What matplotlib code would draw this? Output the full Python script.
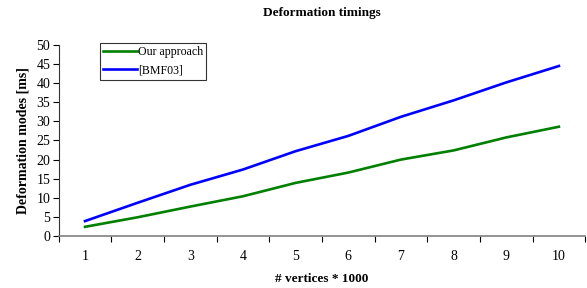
import matplotlib
matplotlib.use("Agg")
import matplotlib.pyplot as plt
import numpy as np

plt.rcParams['font.family'] = ['Liberation Serif', 'DejaVu Serif']

categories = [1, 2, 3, 4, 5, 6, 7, 8, 9, 10]
our_approach = [2.4, 4.9, 7.7, 10.4, 13.9, 16.6, 20.0, 22.4, 25.8, 28.6]
bmf03 = [3.9, 8.7, 13.4, 17.4, 22.2, 26.2, 31.2, 35.5, 40.2, 44.5]
yticks = list(range(0, 51, 5))

fig = plt.figure(figsize=(5.87, 2.88), dpi=100)
ax = fig.add_axes([0.1, 0.1806, 0.897, 0.6632])

ax.plot(categories, our_approach, color='#008000', lw=1.9, label='Our approach')
ax.plot(categories, bmf03, color='#0000FF', lw=1.9, label='[BMF03]')

ax.set_xlim(0.5, 10.5)
ax.set_ylim(0, 50)
ax.set_yticks(yticks)
ax.set_xticks(categories)
ax.set_xticks(np.arange(0.5, 11, 1), minor=True)
ax.tick_params(axis='x', which='major', length=0, pad=10, labelsize=10)
ax.tick_params(axis='x', which='minor', length=4, direction='out', color='black', width=0.8)
ax.tick_params(axis='y', length=4, direction='out', width=0.8, labelsize=10, pad=2)

ax.spines['top'].set_visible(False)
ax.spines['right'].set_visible(False)
ax.spines['bottom'].set_color('#808080')
ax.spines['bottom'].set_linewidth(1.2)
ax.spines['left'].set_color('#333333')

ax.set_title('Deformation timings', fontsize=9.5, fontweight='bold', pad=21)
ax.set_xlabel('# vertices * 1000', fontsize=9.5, fontweight='bold', labelpad=7.5)
ax.set_ylabel('Deformation modes [ms]', fontsize=10, fontweight='bold', labelpad=5)

leg = ax.legend(loc='upper left', bbox_to_anchor=(0.079, 1.01), fontsize=8.6, frameon=True,
                fancybox=False, edgecolor='black', handlelength=2.8, handletextpad=0.1,
                borderpad=0.25, labelspacing=0.55, borderaxespad=0)
leg.get_frame().set_linewidth(0.8)

fig.savefig('out.png', dpi=100)
